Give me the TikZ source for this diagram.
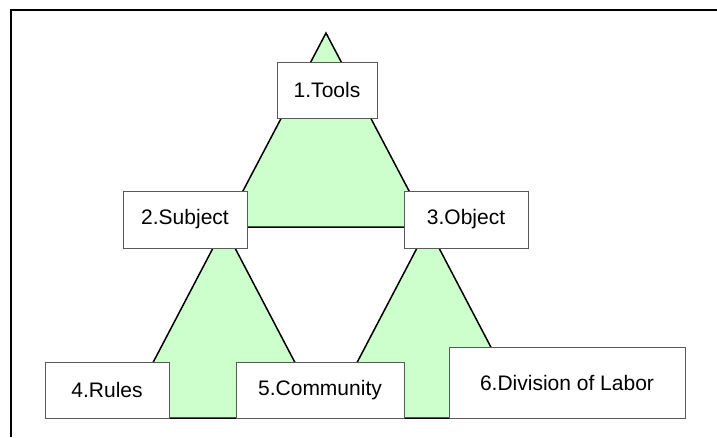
\documentclass[tikz,border=0pt]{standalone}
\usepackage{fontspec}
\setmainfont{Liberation Sans}
\definecolor{paleGreen}{HTML}{CCFFCC}

\begin{document}
\begin{tikzpicture}[x=1pt, y=-1pt, line join=miter,
	box/.style={draw=black!65, fill=white, line width=0.8pt, inner sep=0pt,
		font=\fontsize{21}{24}\selectfont},
	tri/.style={fill=paleGreen, draw=black, line width=1.5pt}]
	
	\useasboundingbox (0,0) rectangle (717,437);
	
	% frame (top and left edges only)
	\draw[line width=2pt] (717,10) -- (11,10) -- (11,437);
	
	% corners of the three triangles
	\coordinate (top) at (326,33);
	\coordinate (sub) at (224,227);
	\coordinate (obj) at (428,227);
	\coordinate (bl1) at (124,418);
	\coordinate (bl2) at (324,418);
	\coordinate (br1) at (328,418);
	\coordinate (br2) at (528,418);
	
	% upper triangle and the two lower ones
	\draw[tri] (top) -- (obj) -- (sub) -- cycle;
	\draw[tri] (sub) -- (bl2) -- (bl1) -- cycle;
	\draw[tri] (obj) -- (br2) -- (br1) -- cycle;
	
	% labels
	\node[box, minimum width=100, minimum height=56] (tools) at (327,90) {1.Tools};
	\node[box, minimum width=124, minimum height=57] (subject) at (185,219.5) {2.Subject};
	\node[box, minimum width=124, minimum height=57] (object) at (466,219.5) {3.Object};
	\node[box, minimum width=124, minimum height=56] (rules) at (107,390) {4.Rules};
	\node[box, minimum width=168, minimum height=56] (community) at (320,390) {5.Community};
	\node[box, minimum width=236, minimum height=71] (division) at (567,382.5) {6.Division of Labor};
	
\end{tikzpicture}
\end{document}
